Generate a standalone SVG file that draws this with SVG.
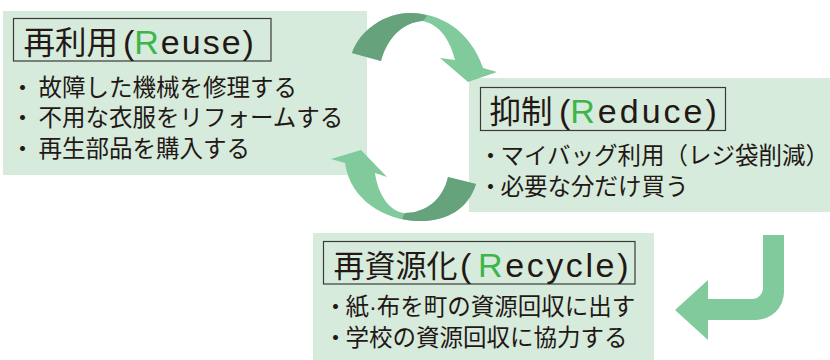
<svg xmlns="http://www.w3.org/2000/svg" width="830" height="360" viewBox="0 0 830 360">
<style>
.box{fill:#d6ebdc}
.tbox{fill:#d6ebdc;stroke:#3a3a3a;stroke-width:1.2}
text{font-family:"Liberation Sans","Noto Sans CJK JP",sans-serif;fill:#231815}
.title{font-size:31.5px}
.lat{font-size:34px}
.r{fill:#3db54a}
.item{font-size:23.5px}
.light{fill:#80ca9c}
.dark{fill:#66a37d}
</style>
<rect width="830" height="360" fill="#ffffff"/>
<g id="node-reuse">
<rect class="box" x="3" y="11" width="364" height="164"/>
<rect class="tbox" x="13.5" y="18.5" width="257.5" height="42.5"/>
<text class="title" y="54"><tspan x="23.5">再利用</tspan><tspan class="lat" x="123">(</tspan><tspan class="lat" x="134.3" style="letter-spacing:2px"><tspan class="r">R</tspan>euse)</tspan></text>
<text class="item" y="95.5"><tspan x="10.7">・</tspan><tspan x="38.5">故障した機械を修理する</tspan></text>
<text class="item" y="126"><tspan x="10.7">・</tspan><tspan x="38.5">不用な衣服をリフォームする</tspan></text>
<text class="item" y="156.5"><tspan x="10.7">・</tspan><tspan x="38.5">再生部品を購入する</tspan></text>
</g>
<g id="node-reduce">
<rect class="box" x="469" y="78" width="361" height="134"/>
<rect class="tbox" x="480.5" y="87.5" width="245" height="43"/>
<text class="title" y="123"><tspan x="489.5">抑制</tspan><tspan class="lat" x="559">(</tspan><tspan class="lat" x="570.3" style="letter-spacing:3px"><tspan class="r">R</tspan>educe)</tspan></text>
<text class="item" y="164"><tspan x="478.7">・</tspan><tspan x="500.5">マイバッグ利用（レジ袋削減）</tspan></text>
<text class="item" y="194.5"><tspan x="478.7">・</tspan><tspan x="500.5">必要な分だけ買う</tspan></text>
</g>
<g id="node-recycle">
<rect class="box" x="313" y="233" width="341" height="127"/>
<rect class="tbox" x="323.5" y="241.5" width="311.5" height="42.5"/>
<text class="title" y="276.5"><tspan x="333.5" style="font-size:31px">再資源化</tspan><tspan class="lat" x="460">(</tspan><tspan class="lat" x="478" style="letter-spacing:2.6px"><tspan class="r">R</tspan>ecycle)</tspan></text>
<text class="item" y="315"><tspan x="323.7">・</tspan><tspan x="345.5">紙</tspan><tspan>·</tspan><tspan>布を町の資源回収に出す</tspan></text>
<text class="item" y="345.5"><tspan x="323.7">・</tspan><tspan x="345.5">学校の資源回収に協力する</tspan></text>
</g>
<g id="connectors">
<g id="arrow-reuse-reduce">
<path class="light" d="M352,53 C360,30 385,13 410,13 C440,13 470,30 483,68 L497,72 L468,82 L440,58 L455,60 C450,40 440,25 423,21 C405,22 388,35 381,61 Z"/>
<path class="dark" d="M352,53 C360,30 385,13 410,13 C418,13 423,14 427,16 L423,21 C405,22 388,35 381,61 Z"/>
</g>
<g id="arrow-reduce-reuse">
<path class="light" d="M476,184 C468,210 445,222 417,221 C385,220 350,200 345,163 L331,159 L361,150 L387,177 L375,173 C378,195 390,212 405,213 C425,213 443,200 448,177 Z"/>
<path class="dark" d="M476,184 C468,210 445,222 417,221 C412,221 407,220 402,219 L405,213 C425,213 443,200 448,177 Z"/>
</g>
<g id="arrow-reduce-recycle">
<path class="light" d="M763,235 H784 V292 A28,28 0 0 1 756,320 H708 V340 L675,310 L708,280 V299 H752 A11,11 0 0 0 763,288 Z"/>
</g>
</g>
</svg>
